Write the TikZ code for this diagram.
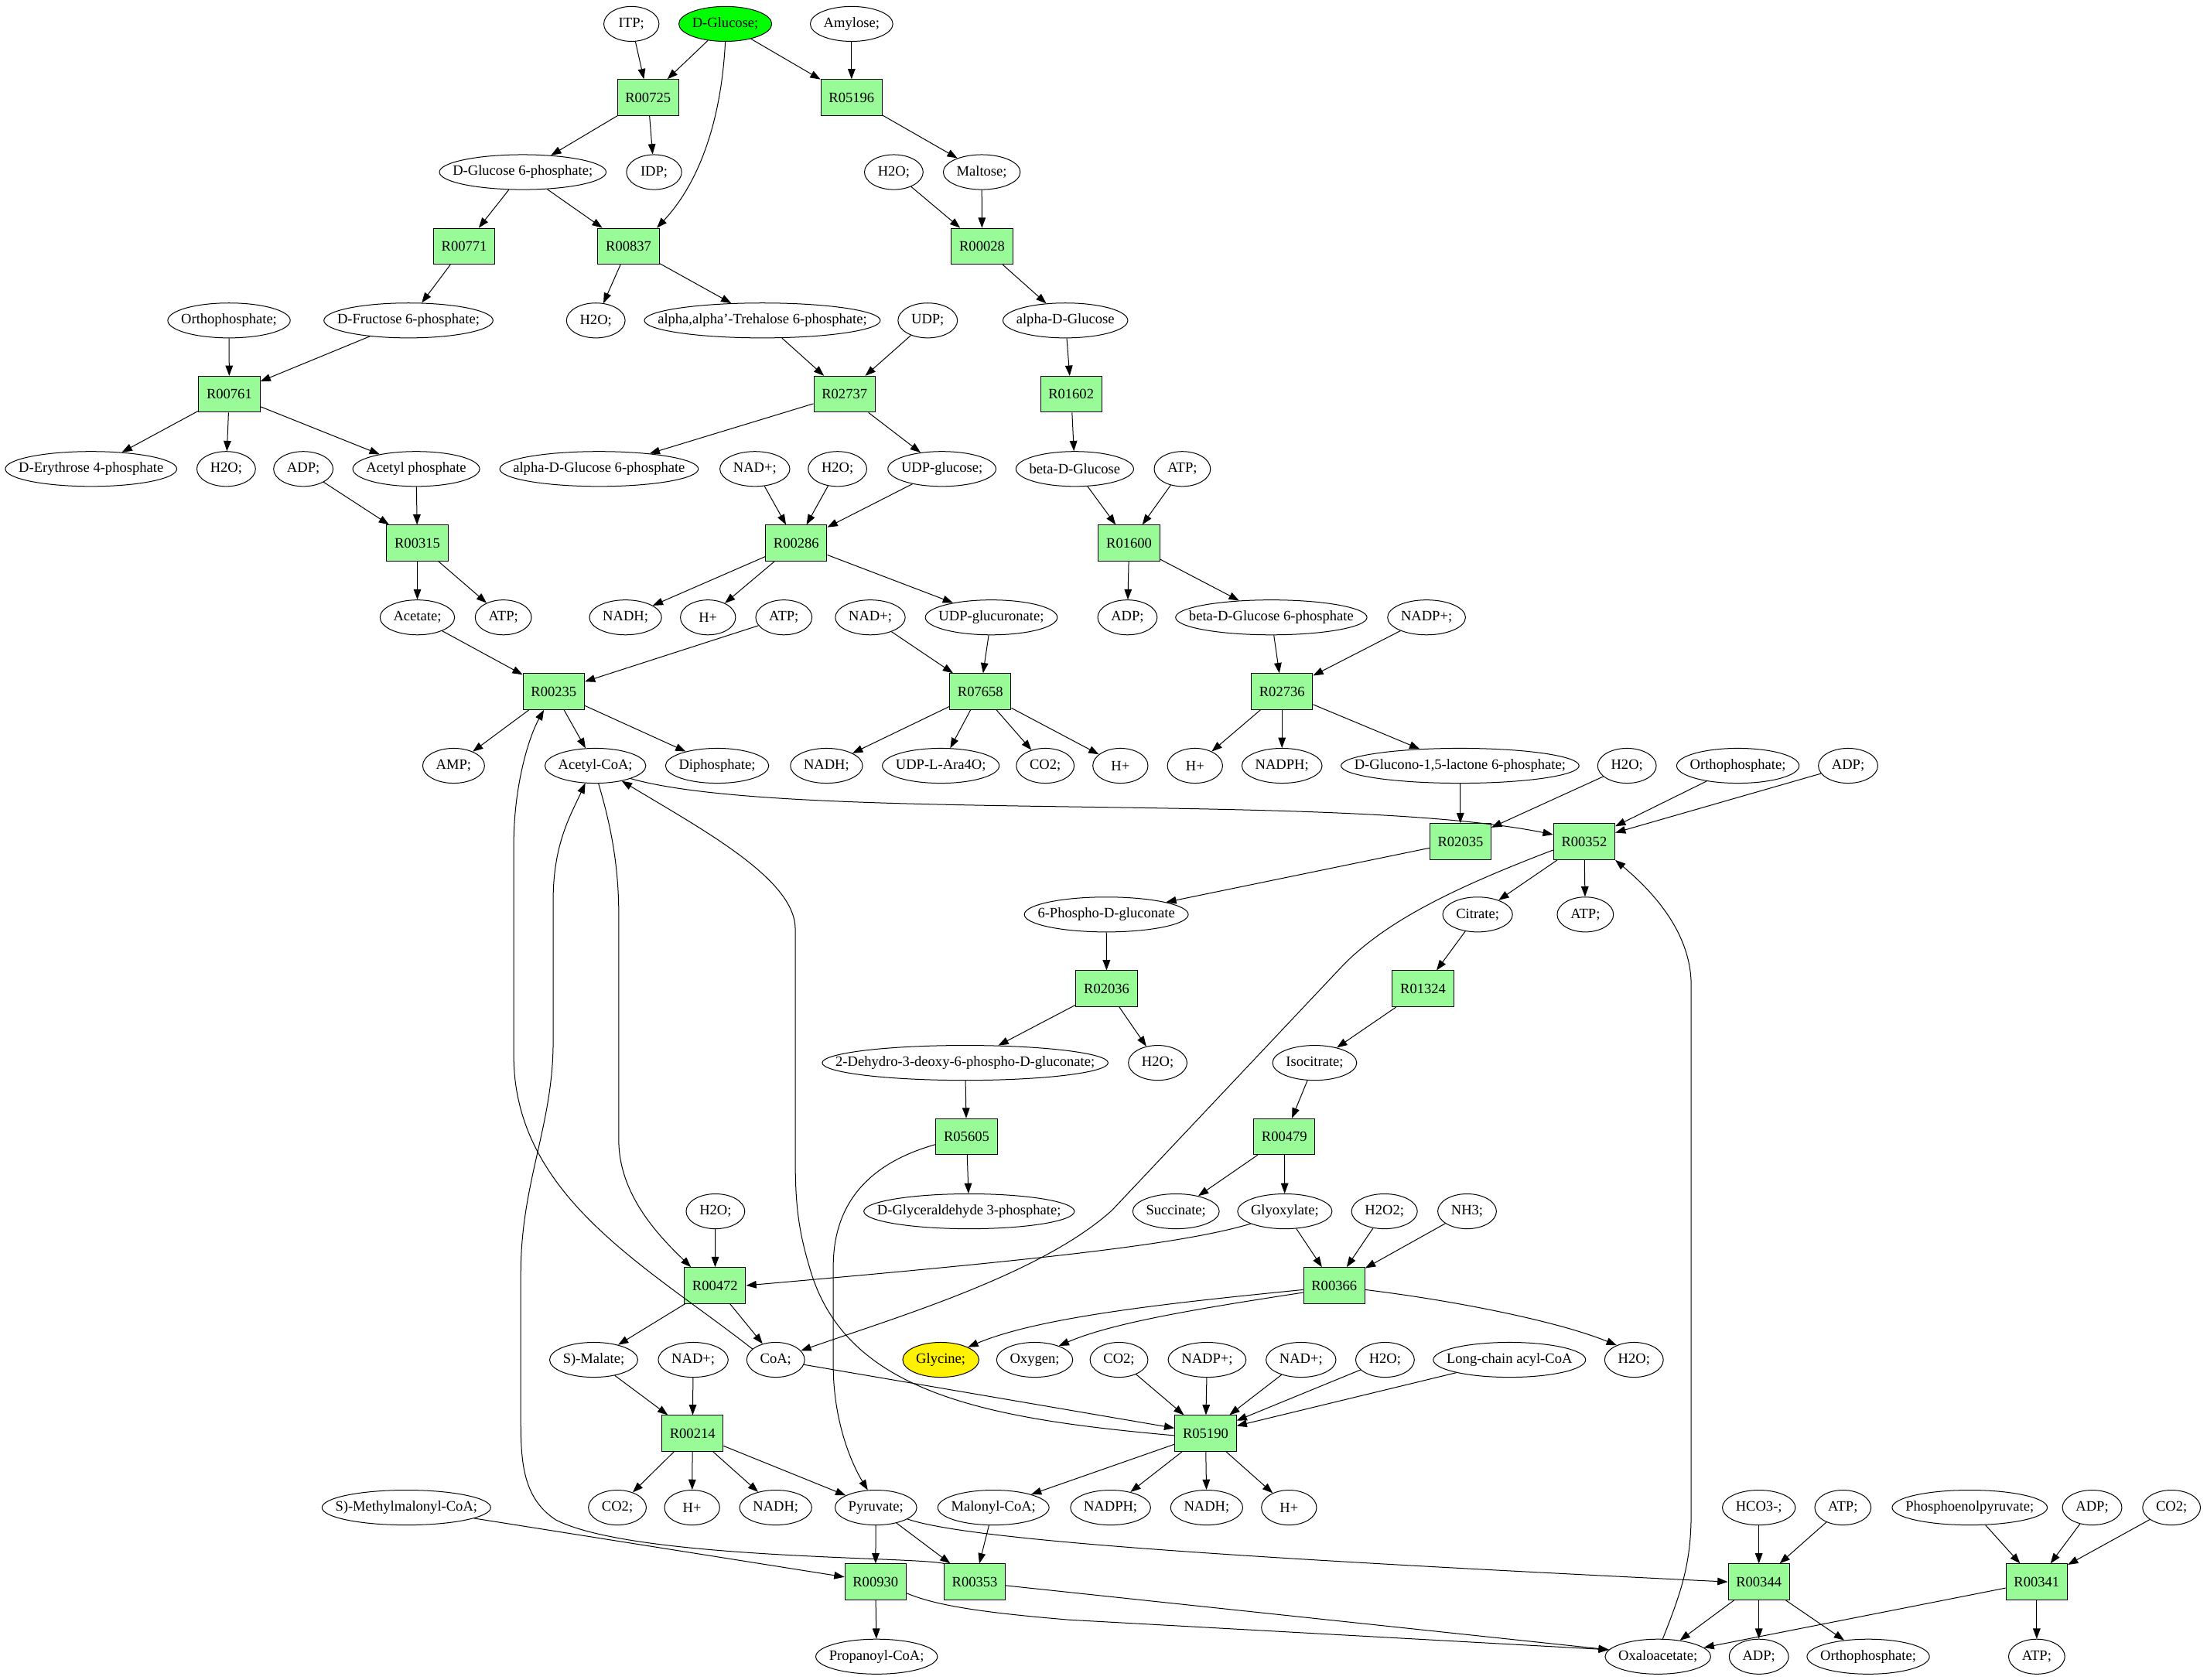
\documentclass[tikz,border=0pt]{standalone}
\usepackage{fontspec}
\setmainfont{Liberation Serif}
\usetikzlibrary{shapes.geometric,arrows.meta}
\definecolor{pg}{HTML}{98FB98}
\newcommand\elx[1]{\setbox0=\hbox{#1}\dimen0=\wd0\advance\dimen0 by 19pt\makebox[0.7071\dimen0]{#1}}
\begin{document}
\begin{tikzpicture}[x=1pt,y=-1pt,
  every node/.style={font=\fontsize{10.2pt}{12pt}\selectfont},
  met/.style={ellipse,draw,line width=0.55pt,inner sep=0pt,minimum width=39.2pt,minimum height=24.8pt},
  rx/.style={rectangle,draw,fill=pg,line width=0.55pt,minimum width=43.6pt,minimum height=25.6pt,inner sep=1pt},
  e/.style={draw,line width=0.55pt,-{Triangle[length=7.3pt,width=5.3pt]}}]
\fill[white] (0,0) rectangle (1568,1193.2);
\useasboundingbox (0,0) rectangle (1568,1193.2);
% row 1
\node[met] (itp) at (448.6,17) {\elx{ITP;}};
\node[met,fill=green] (glc) at (515.3,17) {\elx{D-Glucose;}};
\node[met] (amylose) at (605,17) {\elx{Amylose;}};
% row 2
\node[rx] (r00725) at (460.4,69.3) {R00725};
\node[rx] (r05196) at (605,69.3) {R05196};
% row 3
\node[met] (g6p) at (371.4,122.3) {\elx{D-Glucose 6-phosphate;}};
\node[met] (idp) at (464.7,122.3) {\elx{IDP;}};
\node[met] (h2oA) at (635,122.3) {\elx{H2O;}};
\node[met] (maltose) at (697.5,122.3) {\elx{Maltose;}};
% row 4
\node[rx] (r00771) at (329.8,175) {R00771};
\node[rx] (r00837) at (446.6,175) {R00837};
\node[rx] (r00028) at (697.7,175) {R00028};
% row 5
\node[met] (orthoA) at (162.7,227.7) {\elx{Orthophosphate;}};
\node[met] (f6p) at (290.2,227.7) {\elx{D-Fructose 6-phosphate;}};
\node[met] (h2oB) at (423.3,227.7) {\elx{H2O;}};
\node[met] (treh) at (541.6,227.7) {\elx{alpha,alpha'-Trehalose 6-phosphate;}};
\node[met] (udp) at (659.1,227.7) {\elx{UDP;}};
\node[met] (adglc) at (756.9,227.7) {\elx{alpha-D-Glucose}};
% row 6
\node[rx] (r00761) at (162.9,280.1) {R00761};
\node[rx] (r02737) at (600,280.1) {R02737};
\node[rx] (r01602) at (761,280.1) {R01602};
% row 7
\node[met] (e4p) at (64.7,333.2) {\elx{D-Erythrose 4-phosphate}};
\node[met] (h2oC) at (160.7,333.2) {\elx{H2O;}};
\node[met] (adpA) at (215.5,333.2) {\elx{ADP;}};
\node[met] (acp) at (295.7,333.2) {\elx{Acetyl phosphate}};
\node[met] (adg6p) at (425.6,333.2) {\elx{alpha-D-Glucose 6-phosphate}};
\node[met] (nadA) at (536.3,333.2) {\elx{NAD+;}};
\node[met] (h2oD) at (595,333.2) {\elx{H2O;}};
\node[met] (udpglc) at (669.2,333.2) {\elx{UDP-glucose;}};
\node[met] (bdglc) at (763.6,333.2) {\elx{beta-D-Glucose}};
\node[met] (atpA) at (840,333.2) {\elx{ATP;}};
% row 8
\node[rx] (r00315) at (296.5,385.9) {R00315};
\node[rx] (r00286) at (565.7,385.9) {R00286};
\node[rx] (r01600) at (802.2,385.9) {R01600};
% row 9
\node[met] (acetate) at (296.5,438.7) {\elx{Acetate;}};
\node[met] (atpB) at (357.6,438.7) {\elx{ATP;}};
\node[met] (nadhA) at (444.4,438.7) {\elx{NADH;}};
\node[met] (hA) at (503,438.7) {\elx{H+}};
\node[met] (atpC) at (556.9,438.7) {\elx{ATP;}};
\node[met] (nadB) at (618.3,438.7) {\elx{NAD+;}};
\node[met] (udpgluc) at (704.3,438.7) {\elx{UDP-glucuronate;}};
\node[met] (adpB) at (801,438.7) {\elx{ADP;}};
\node[met] (bdg6p) at (903.2,438.7) {\elx{beta-D-Glucose 6-phosphate}};
\node[met] (nadpA) at (1013.5,438.7) {\elx{NADP+;}};
% row 10
\node[rx] (r00235) at (393.4,491.4) {R00235};
\node[rx] (r07658) at (696.5,491.4) {R07658};
\node[rx] (r02736) at (910.8,491.4) {R02736};
% row 11
\node[met] (amp) at (322.3,544.1) {\elx{AMP;}};
\node[met] (acoa) at (423,544.1) {\elx{Acetyl-CoA;}};
\node[met] (ppi) at (509.5,544.1) {\elx{Diphosphate;}};
\node[met] (nadhB) at (587.2,544.1) {\elx{NADH;}};
\node[met] (ara) at (668.4,544.1) {\elx{UDP-L-Ara4O;}};
\node[met] (co2A) at (742.6,544.1) {\elx{CO2;}};
\node[met] (hB) at (796,544.1) {\elx{H+}};
\node[met] (hC) at (849,544.1) {\elx{H+}};
\node[met] (nadphA) at (910.8,544.1) {\elx{NADPH;}};
\node[met] (glucono) at (1037.3,544.1) {\elx{D-Glucono-1,5-lactone 6-phosphate;}};
\node[met] (h2oE) at (1155.9,544.1) {\elx{H2O;}};
\node[met] (orthoB) at (1234.7,544.1) {\elx{Orthophosphate;}};
\node[met] (adpC) at (1313,544.1) {\elx{ADP;}};
% row 12
\node[rx] (r02035) at (1037.6,598) {R02035};
\node[rx] (r00352) at (1125.5,598) {R00352};
% row 13
\node[met] (pgl) at (786,649.8) {\elx{6-Phospho-D-gluconate}};
\node[met] (citrate) at (1049.8,649.8) {\elx{Citrate;}};
\node[met] (atpD) at (1126.3,649.8) {\elx{ATP;}};
% row 14
\node[rx] (r02036) at (786.2,702.5) {R02036};
\node[rx] (r01324) at (1011,702.5) {R01324};
% row 15
\node[met] (kdpg) at (685.7,755.2) {\elx{2-Dehydro-3-deoxy-6-phospho-D-gluconate;}};
\node[met] (h2oF) at (822.5,755.2) {\elx{H2O;}};
\node[met] (isocit) at (934,755.2) {\elx{Isocitrate;}};
% row 16
\node[rx] (r05605) at (686.7,807.6) {R05605};
\node[rx] (r00479) at (912.5,807.6) {R00479};
% row 17
\node[met] (h2oG) at (508.3,860.7) {\elx{H2O;}};
\node[met] (gap) at (688.5,860.7) {\elx{D-Glyceraldehyde 3-phosphate;}};
\node[met] (succ) at (835.5,860.7) {\elx{Succinate;}};
\node[met] (glyox) at (912.8,860.7) {\elx{Glyoxylate;}};
\node[met] (h2o2) at (983.6,860.7) {\elx{H2O2;}};
\node[met] (nh3) at (1042.3,860.7) {\elx{NH3;}};
% row 18
\node[rx] (r00472) at (508,913.4) {R00472};
\node[rx] (r00366) at (947.9,913.4) {R00366};
% row 19
\node[met] (malate) at (421.8,966.2) {\elx{S)-Malate;}};
\node[met] (nadC) at (492.5,966.2) {\elx{NAD+;}};
\node[met] (coa) at (551.1,966.2) {\elx{CoA;}};
\node[met,fill=yellow] (gly) at (668.4,966.2) {\elx{Glycine;}};
\node[met] (oxy) at (735.1,966.2) {\elx{Oxygen;}};
\node[met] (co2B) at (795,966.2) {\elx{CO2;}};
\node[met] (nadpB) at (857.6,966.2) {\elx{NADP+;}};
\node[met] (nadD) at (924.3,966.2) {\elx{NAD+;}};
\node[met] (h2oH) at (984,966.2) {\elx{H2O;}};
\node[met] (lcacoa) at (1072.4,966.2) {\elx{Long-chain acyl-CoA}};
\node[met] (h2oI) at (1160.9,966.2) {\elx{H2O;}};
% row 20
\node[rx] (r00214) at (492,1018.5) {R00214};
\node[rx] (r05190) at (856.5,1018.5) {R05190};
% row 21
\node[met] (mmcoa) at (288.7,1071.2) {\elx{S)-Methylmalonyl-CoA;}};
\node[met] (co2C) at (438.6,1071.2) {\elx{CO2;}};
\node[met] (hD) at (491.7,1071.2) {\elx{H+}};
\node[met] (nadhC) at (551.1,1071.2) {\elx{NADH;}};
\node[met] (pyr) at (622.3,1071.2) {\elx{Pyruvate;}};
\node[met] (malcoa) at (705.8,1071.2) {\elx{Malonyl-CoA;}};
\node[met] (nadphB) at (789,1071.2) {\elx{NADPH;}};
\node[met] (nadhD) at (857.3,1071.2) {\elx{NADH;}};
\node[met] (hE) at (915.8,1071.2) {\elx{H+}};
\node[met] (hco3) at (1249.6,1071.2) {\elx{HCO3-;}};
\node[met] (atpE) at (1309.3,1071.2) {\elx{ATP;}};
\node[met] (pep) at (1399.4,1071.2) {\elx{Phosphoenolpyruvate;}};
\node[met] (adpD) at (1486.4,1071.2) {\elx{ADP;}};
\node[met] (co2D) at (1542.8,1071.2) {\elx{CO2;}};
% row 22
\node[rx] (r00930) at (622,1124) {R00930};
\node[rx] (r00353) at (692.5,1124) {R00353};
\node[rx] (r00344) at (1249.6,1124) {R00344};
\node[rx] (r00341) at (1447,1124) {R00341};
% row 23
\node[met] (propcoa) at (622.8,1177.1) {\elx{Propanoyl-CoA;}};
\node[met] (oxa) at (1177.9,1177.1) {\elx{Oxaloacetate;}};
\node[met] (adpE) at (1249.6,1177.1) {\elx{ADP;}};
\node[met] (orthoC) at (1327.3,1177.1) {\elx{Orthophosphate;}};
\node[met] (atpF) at (1447,1177.1) {\elx{ATP;}};

% edges
\draw[e] (itp) -- (r00725);
\draw[e] (glc) -- (r00725);
\draw[e] (glc.south) .. controls (512,95) and (492,135) .. ([xshift=-2pt]r00837.north east);
\draw[e] (glc) -- (r05196);
\draw[e] (amylose) -- (r05196);
\draw[e] (r00725) -- (g6p);
\draw[e] (r00725) -- (idp);
\draw[e] (r05196) -- (maltose);
\draw[e] (h2oA) -- (r00028);
\draw[e] (maltose) -- (r00028);
\draw[e] (g6p) -- (r00771);
\draw[e] (g6p) -- (r00837);
\draw[e] (r00771) -- (f6p);
\draw[e] (r00837) -- (h2oB);
\draw[e] (r00837) -- (treh);
\draw[e] (r00028) -- (adglc);
\draw[e] (orthoA) -- (r00761);
\draw[e] (f6p) -- (r00761);
\draw[e] (treh) -- (r02737);
\draw[e] (udp) -- (r02737);
\draw[e] (adglc) -- (r01602);
\draw[e] (r00761) -- (e4p);
\draw[e] (r00761) -- (h2oC);
\draw[e] (r00761) -- (acp);
\draw[e] (r02737) -- (adg6p);
\draw[e] (r02737) -- (udpglc);
\draw[e] (r01602) -- (bdglc);
\draw[e] (adpA) -- (r00315);
\draw[e] (acp) -- (r00315);
\draw[e] (nadA) -- (r00286);
\draw[e] (h2oD) -- (r00286);
\draw[e] (udpglc) -- (r00286);
\draw[e] (bdglc) -- (r01600);
\draw[e] (atpA) -- (r01600);
\draw[e] (r00315) -- (acetate);
\draw[e] (r00315) -- (atpB);
\draw[e] (r00286) -- (nadhA);
\draw[e] (r00286) -- (hA);
\draw[e] (r00286) -- (udpgluc);
\draw[e] (r01600) -- (adpB);
\draw[e] (r01600) -- (bdg6p);
\draw[e] (acetate) -- (r00235);
\draw[e] (atpC) -- (r00235);
\draw[e] (nadB) -- (r07658);
\draw[e] (udpgluc) -- (r07658);
\draw[e] (bdg6p) -- (r02736);
\draw[e] (nadpA) -- (r02736);
\draw[e] (r00235) -- (amp);
\draw[e] (r00235) -- (acoa);
\draw[e] (r00235) -- (ppi);
\draw[e] (r07658) -- (nadhB);
\draw[e] (r07658) -- (ara);
\draw[e] (r07658) -- (co2A);
\draw[e] (r07658) -- (hB);
\draw[e] (r02736) -- (hC);
\draw[e] (r02736) -- (nadphA);
\draw[e] (r02736) -- (glucono);
\draw[e] (glucono) -- (r02035);
\draw[e] (h2oE) -- (r02035);
\draw[e] (orthoB) -- (r00352);
\draw[e] (adpC) -- (r00352);
\draw[e] (acoa.-20) .. controls (560,585) and (950,562) .. ([yshift=5pt]r00352.west);
\draw[e] (r02035) -- (pgl);
\draw[e] (r00352) -- (citrate);
\draw[e] (r00352) -- (atpD);
\draw[e] ([yshift=-6pt]r00352.west) .. controls (1030,632) and (985,655) .. (955,685) -- (790,860) .. controls (740,905) and (640,935) .. (coa.20);
\draw[e] (pgl) -- (r02036);
\draw[e] (r02036) -- (kdpg);
\draw[e] (r02036) -- (h2oF);
\draw[e] (citrate) -- (r01324);
\draw[e] (r01324) -- (isocit);
\draw[e] (isocit) -- (r00479);
\draw[e] (kdpg) -- (r05605);
\draw[e] (r05605) -- (gap);
\draw[e] ([yshift=-5.6pt]r05605.west) .. controls (612,828) and (592,860) .. (592,900) -- (592,970) .. controls (592,1010) and (605,1040) .. (pyr.115);
\draw[e] (r00479) -- (succ);
\draw[e] (r00479) -- (glyox);
\draw[e] (glyox.200) .. controls (840,884) and (740,895) .. (r00472.east);
\draw[e] (glyox) -- (r00366);
\draw[e] (h2o2) -- (r00366);
\draw[e] (nh3) -- (r00366);
\draw[e] ([yshift=-3pt]r00366.west) .. controls (840,925) and (740,935) .. (gly.25);
\draw[e] ([yshift=-5pt]r00366.west) .. controls (850,930) and (790,940) .. (oxy.30);
\draw[e] ([yshift=-3pt]r00366.east) .. controls (1040,925) and (1110,940) .. (h2oI.140);
\draw[e] (h2oG) -- (r00472);
\draw[e] (acoa.-80) .. controls (432,580) and (439.6,610) .. (439.6,650) -- (439.6,810) .. controls (439.6,850) and (470,880) .. ([xshift=5pt]r00472.north west);
\draw[e] (r00472) -- (malate);
\draw[e] (r00472) -- (coa);
\draw[e] (coa.155) .. controls (460,900) and (365,850) .. (365,750) -- (365,600) .. controls (365,560) and (375,525) .. ([xshift=-7pt]r00235.south);
\draw[e] (malate) -- (r00214);
\draw[e] (nadC) -- (r00214);
\draw[e] (coa) -- (r05190);
\draw[e] (co2B) -- (r05190);
\draw[e] (nadpB) -- (r05190);
\draw[e] (nadD) -- (r05190);
\draw[e] (h2oH) -- (r05190);
\draw[e] (lcacoa) -- (r05190);
\draw[e] ([yshift=-1.5pt]r05190.west) .. controls (700,1008) and (600,990) .. (575,900) .. controls (566,870) and (565,850) .. (565,820) -- (565,660) .. controls (565,625) and (500,590) .. (acoa.-30);
\draw[e] (r05190) -- (malcoa);
\draw[e] (r05190) -- (nadphB);
\draw[e] (r05190) -- (nadhD);
\draw[e] (r05190) -- (hE);
\draw[e] (r00214) -- (co2C);
\draw[e] (r00214) -- (hD);
\draw[e] (r00214) -- (nadhC);
\draw[e] (r00214) -- (pyr);
\draw[e] (pyr) -- (r00930);
\draw[e] (pyr) -- (r00353);
\draw[e] (malcoa) -- (r00353);
\draw[e] (pyr.-20) .. controls (690,1095) and (900,1108) .. (r00344.west);
\draw[e] (mmcoa) -- (r00930);
\draw[e] (r00930) -- (propcoa);
\draw[e] (r00353.north west) .. controls (650,1106) and (450,1108) .. (395,1080) .. controls (372,1065) and (370,1040) .. (370,1010) -- (370,905) .. controls (370,840) and (393,800) .. (393,740) -- (393,640) .. controls (393,600) and (405,580) .. (acoa.-120);
\draw[e] ([yshift=-2.6pt]r00353.east) -- (oxa.172);
\draw[e] ([yshift=-8pt]r00930.east) .. controls (665,1141) and (700,1146) .. (760,1151) -- (oxa.172);
\draw[e] (hco3) -- (r00344);
\draw[e] (atpE) -- (r00344);
\draw[e] (r00344) -- (oxa);
\draw[e] (r00344) -- (adpE);
\draw[e] (r00344) -- (orthoC);
\draw[e] (pep) -- (r00341);
\draw[e] (adpD) -- (r00341);
\draw[e] (co2D) -- (r00341);
\draw[e] (r00341) -- (oxa);
\draw[e] (r00341) -- (atpF);
\draw[e] (oxa.75) .. controls (1195,1130) and (1201.5,1110) .. (1201.5,1075) -- (1201.5,700) .. controls (1201.5,660) and (1170,630) .. (r00352.south east);
\end{tikzpicture}
\end{document}
